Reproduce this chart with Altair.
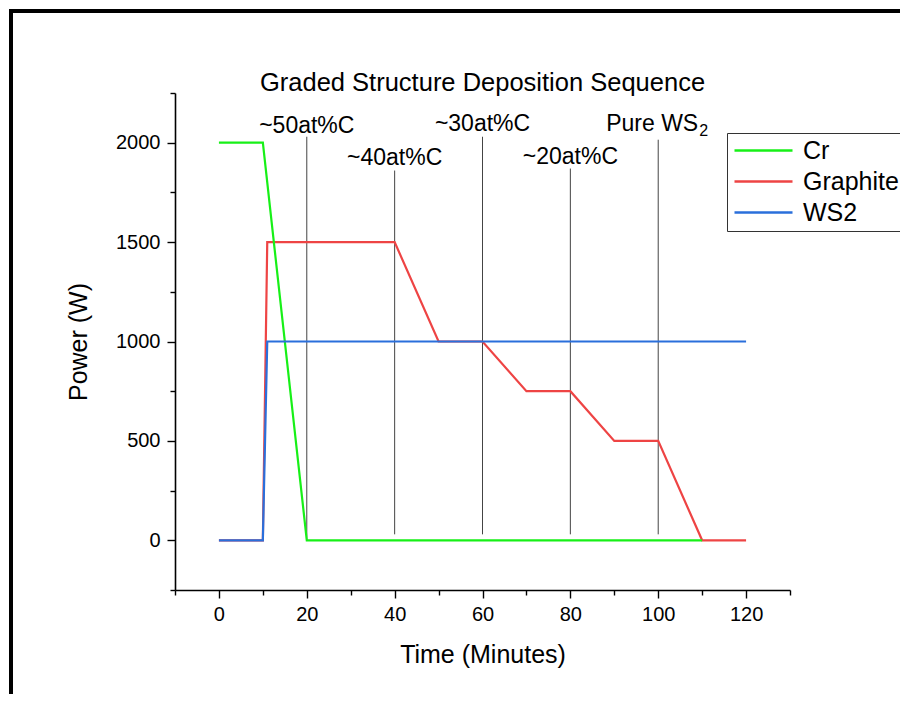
import altair as alt
import pandas as pd

# ---- data ----
cr_time = [0, 10, 20, 110]
cr_power = [2000, 2000, 0, 0]

graphite_time = [0, 10, 11, 40, 50, 60, 70, 80, 90, 100, 110, 120]
graphite_power = [0, 0, 1500, 1500, 1000, 1000, 750, 750, 500, 500, 0, 0]

ws2_time = [0, 10, 11, 120]
ws2_power = [0, 0, 1000, 1000]

marker_time = [20, 40, 60, 80, 100]
marker_top = [2030, 1860, 2030, 1870, 2015]
marker_bottom = [0, 30, 30, 30, 30]
marker_label = ["~50at%C", "~40at%C", "~30at%C", "~20at%C", "Pure WS"]
marker_sub = ["", "", "", "", "2"]
marker_label_y = [2085, 1925, 2095, 1930, 2095]

series_names = ["Cr", "Graphite", "WS2"]
series_colors = ["#17f017", "#ee4444", "#2a6fdb"]

x_ticks = list(range(-10, 131, 10))
y_ticks = list(range(-250, 2251, 250))

TITLE = "Graded Structure Deposition Sequence"
FONT = "Liberation Sans"
W, H = 615, 497

def series_df(name, t, p):
    return pd.DataFrame({"time": t, "power": p, "series": name, "order": range(len(t))})

cr_df = series_df("Cr", cr_time, cr_power)
gr_df = series_df("Graphite", graphite_time, graphite_power)
ws_df = series_df("WS2", ws2_time, ws2_power)
mk_df = pd.DataFrame({"time": marker_time, "top": marker_top, "bottom": marker_bottom,
                      "label": marker_label, "sub": marker_sub, "ly": marker_label_y})
title_df = pd.DataFrame({"title": [TITLE]})

x_scale = alt.Scale(domain=[-10, 130], nice=False, zero=False)
y_scale = alt.Scale(domain=[-250, 2250], nice=False, zero=False)
color_scale = alt.Scale(domain=series_names, range=series_colors)

x_axis = alt.Axis(
    title="Time (Minutes)", values=x_ticks, grid=False,
    labelExpr="(datum.value % 20 === 0 && datum.value >= 0 && datum.value <= 120) ? datum.label : ''",
    tickSize={"condition": {"test": "datum.value % 20 === 0 && datum.value >= 0 && datum.value <= 120", "value": 8}, "value": 5},
    labelFontSize=20, titleFontSize=25, titleFontWeight="normal", labelFont=FONT, titleFont=FONT,
    labelColor="black", titleColor="black", domainColor="black", tickColor="black",
    domainWidth=1.6, tickWidth=1.4, labelPadding=6, titlePadding=18, labelFlush=False,
)
y_axis = alt.Axis(
    title="Power (W)", values=y_ticks, grid=False,
    labelExpr="(datum.value % 500 === 0 && datum.value >= 0 && datum.value <= 2000) ? datum.label : ''",
    tickSize={"condition": {"test": "datum.value % 500 === 0 && datum.value >= 0 && datum.value <= 2000", "value": 8}, "value": 5},
    labelFontSize=20, titleFontSize=25, titleFontWeight="normal", labelFont=FONT, titleFont=FONT,
    labelColor="black", titleColor="black", domainColor="black", tickColor="black",
    domainWidth=1.6, tickWidth=1.4, labelPadding=7, titlePadding=24, format="d", labelFlush=False,
)

legend = alt.Legend(
    title=None, orient="none", legendX=552, legendY=40,
    strokeColor="#333333", padding=5, symbolType="M-1,0H4.8", symbolSize=400,
    symbolStrokeWidth=2.6, labelFontSize=25, labelFont=FONT, labelColor="black",
    rowPadding=5, labelOffset=46, fillColor="white", symbolOpacity=1,
)

def line_layer(df, with_legend):
    return alt.Chart(df).mark_line(strokeWidth=2.2, clip=False).encode(
        x=alt.X("time:Q", scale=x_scale, axis=x_axis),
        y=alt.Y("power:Q", scale=y_scale, axis=y_axis),
        color=alt.Color("series:N", scale=color_scale, legend=legend if with_legend else None),
        order="order:Q",
    )

rules = alt.Chart(mk_df).mark_rule(color="#444444", strokeWidth=1).encode(
    x=alt.X("time:Q", scale=x_scale),
    y=alt.Y("top:Q", scale=y_scale),
    y2="bottom:Q",
)
labels = alt.Chart(mk_df).transform_filter("datum.sub === ''").mark_text(
    fontSize=23, font=FONT, color="black", baseline="middle", align="center").encode(
    x=alt.X("time:Q", scale=x_scale),
    y=alt.Y("ly:Q", scale=y_scale),
    text="label:N",
)
sub_main = alt.Chart(mk_df).transform_filter("datum.sub !== ''").mark_text(
    fontSize=23, font=FONT, color="black", baseline="middle", align="right", dx=40).encode(
    x=alt.X("time:Q", scale=x_scale),
    y=alt.Y("ly:Q", scale=y_scale),
    text="label:N",
)
sub_small = alt.Chart(mk_df).transform_filter("datum.sub !== ''").mark_text(
    fontSize=16, font=FONT, color="black", baseline="middle", align="left", dx=41, dy=7).encode(
    x=alt.X("time:Q", scale=x_scale),
    y=alt.Y("ly:Q", scale=y_scale),
    text="sub:N",
)

title_text = alt.Chart(title_df).mark_text(fontSize=25.5, font=FONT, color="black",
                                            baseline="alphabetic", align="center", clip=False).encode(
    x=alt.value(W / 2), y=alt.value(-2), text="title:N",
)

border = alt.Chart(title_df).mark_rect(filled=False, stroke="black", strokeWidth=4, clip=False).encode(
    x=alt.value(-164), x2=alt.value(800), y=alt.value(-82), y2=alt.value(800),
)

chart = alt.layer(
    border, title_text, rules, labels, sub_main, sub_small,
    line_layer(gr_df, True), line_layer(cr_df, False), line_layer(ws_df, False),
).properties(
    width=W, height=H,
    background="white",
    autosize=alt.AutoSizeParams(type="none"),
    padding={"left": 167, "top": 85, "right": 110, "bottom": 104},
).configure_view(strokeWidth=0)

chart.save("out.html", embed_options={"renderer": "svg", "actions": False})
